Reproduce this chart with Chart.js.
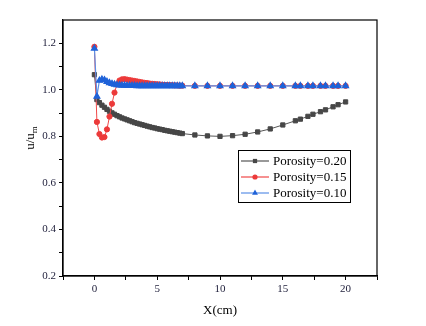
<!DOCTYPE html>
<html>
<head>
<meta charset="utf-8">
<script src="https://cdn.jsdelivr.net/npm/chart.js@4/dist/chart.umd.min.js"></script>
<style>
  body { margin: 0; background: #fff; }
  canvas { display: block; }
</style>
</head>
<body>
<canvas id="chart" width="426" height="326"></canvas>
<script>
const xs = [0, 0.2, 0.4, 0.6, 0.8, 1.0, 1.2, 1.4, 1.6, 1.8, 2.0, 2.2, 2.4, 2.6, 2.8, 3.0, 3.2, 3.4, 3.6, 3.8,
  4.0, 4.2, 4.4, 4.6, 4.8, 5.0, 5.2, 5.4, 5.6, 5.8, 6.0, 6.2, 6.4, 6.6, 6.8, 7.0,
  8, 9, 10, 11, 12, 13, 14, 15, 16, 16.4, 17, 17.4, 18, 18.4, 19, 19.4, 20];

const por20 = [1.065, 0.958, 0.945, 0.934, 0.925, 0.916, 0.908, 0.901, 0.895, 0.889, 0.884, 0.879, 0.875, 0.871, 0.867, 0.863, 0.859, 0.856, 0.853, 0.850,
  0.847, 0.844, 0.841, 0.838, 0.836, 0.833, 0.831, 0.829, 0.826, 0.824, 0.822, 0.820, 0.818, 0.816, 0.814, 0.812,
  0.806, 0.802, 0.800, 0.803, 0.809, 0.819, 0.832, 0.849, 0.867, 0.874, 0.886, 0.895, 0.906, 0.914, 0.927, 0.936, 0.948];

const por15 = [1.185, 0.862, 0.810, 0.795, 0.797, 0.830, 0.885, 0.940, 0.988, 1.024, 1.040, 1.045, 1.046, 1.044, 1.042, 1.040, 1.038, 1.036, 1.034, 1.032,
  1.030, 1.029, 1.027, 1.026, 1.025, 1.024, 1.023, 1.022, 1.021, 1.021, 1.020, 1.020, 1.019, 1.019, 1.018, 1.018,
  1.017, 1.017, 1.017, 1.017, 1.017, 1.017, 1.017, 1.017, 1.017, 1.017, 1.017, 1.017, 1.017, 1.017, 1.017, 1.017, 1.017];

const por10 = [1.178, 0.972, 1.040, 1.045, 1.042, 1.035, 1.030, 1.026, 1.023, 1.021, 1.020, 1.019, 1.019, 1.018, 1.018, 1.018, 1.018, 1.017, 1.017, 1.017,
  1.017, 1.017, 1.017, 1.017, 1.017, 1.017, 1.017, 1.017, 1.017, 1.017, 1.017, 1.017, 1.017, 1.017, 1.017, 1.017,
  1.017, 1.017, 1.017, 1.017, 1.017, 1.017, 1.017, 1.017, 1.017, 1.017, 1.017, 1.017, 1.017, 1.017, 1.017, 1.017, 1.017];

const seriesNames = ['Porosity=0.20', 'Porosity=0.15', 'Porosity=0.10'];
const xLabels = [0, 5, 10, 15, 20];
const yLabels = [0.2, 0.4, 0.6, 0.8, 1.0, 1.2];

const serif = 'Liberation Serif';
const tickColor = '#1e1e3a';

function pts(ys) {
  return xs.map((x, i) => ({ x: x, y: ys[i] }));
}

// frame, y title with subscript and a legend inside the plot
const extras = {
  id: 'extras',
  afterDraw(chart) {
    const ctx = chart.ctx;
    const a = chart.chartArea;
    ctx.save();
    ctx.strokeStyle = '#000';
    ctx.lineWidth = 1.2;
    ctx.strokeRect(a.left, a.top, a.right - a.left, a.bottom - a.top);

    // y title
    ctx.translate(31, 138);
    ctx.rotate(-Math.PI / 2);
    ctx.fillStyle = '#000';
    ctx.textBaseline = 'middle';
    ctx.font = '13px "' + serif + '"';
    const main = 'u/u';
    const w1 = ctx.measureText(main).width;
    ctx.font = '9px "' + serif + '"';
    const w2 = ctx.measureText('m').width;
    let x0 = -(w1 + w2) / 2;
    ctx.font = '13px "' + serif + '"';
    ctx.textAlign = 'left';
    ctx.fillText(main, x0, 0);
    ctx.font = '9px "' + serif + '"';
    ctx.fillText('m', x0 + w1, 4);
    ctx.restore();

    // legend
    ctx.save();
    const lx = 238, ly = 150, lw = 112, lh = 52;
    ctx.fillStyle = '#fff';
    ctx.fillRect(lx, ly, lw, lh);
    ctx.strokeStyle = '#000';
    ctx.lineWidth = 1;
    ctx.strokeRect(lx + 0.5, ly + 0.5, lw, lh);
    ctx.font = '13px "' + serif + '"';
    ctx.textBaseline = 'middle';
    ctx.textAlign = 'left';
    chart.data.datasets.forEach((ds, i) => {
      const y = ly + 11 + i * 16;
      ctx.strokeStyle = ds.borderColor;
      ctx.lineWidth = 1.2;
      ctx.beginPath();
      ctx.moveTo(lx + 3, y);
      ctx.lineTo(lx + 31, y);
      ctx.stroke();
      ctx.fillStyle = ds.pointBackgroundColor;
      Chart.helpers.drawPoint(ctx, {
        pointStyle: ds.pointStyle,
        radius: ds.pointRadius,
        borderWidth: 0
      }, lx + 17, y);
      ctx.fillStyle = '#000';
      ctx.fillText(ds.label, lx + 35, y + 1);
    });
    ctx.restore();
  }
};

new Chart(document.getElementById('chart'), {
  type: 'line',
  data: {
    datasets: [
      {
        label: seriesNames[0],
        data: pts(por20),
        borderColor: '#555555',
        backgroundColor: '#474747',
        pointBackgroundColor: '#474747',
        pointBorderColor: '#474747',
        pointStyle: 'rect',
        pointRadius: 3,
        borderWidth: 1,
        order: 2
      },
      {
        label: seriesNames[1],
        data: pts(por15),
        borderColor: '#f04848',
        backgroundColor: '#ec3a3a',
        pointBackgroundColor: '#ec3a3a',
        pointBorderColor: '#ec3a3a',
        pointStyle: 'circle',
        pointRadius: 2.6,
        borderWidth: 1,
        order: 1
      },
      {
        label: seriesNames[2],
        data: pts(por10),
        borderColor: '#5b8fe6',
        backgroundColor: '#1f62d8',
        pointBackgroundColor: '#1f62d8',
        pointBorderColor: '#1f62d8',
        pointStyle: 'triangle',
        pointRadius: 3.4,
        borderWidth: 1.2,
        order: 0
      }
    ]
  },
  options: {
    responsive: false,
    animation: false,
    layout: { padding: { top: 20, right: 49, left: 0, bottom: 0 } },
    plugins: {
      legend: { display: false },
      tooltip: { enabled: false }
    },
    scales: {
      x: {
        type: 'linear',
        min: -2.5,
        max: 22.5,
        afterFit(scale) { scale.height = 50; },
        afterBuildTicks(scale) {
          const t = [];
          for (let v = -2.5; v <= 22.5 + 1e-9; v += 2.5) t.push({ value: v });
          scale.ticks = t;
        },
        grid: { drawOnChartArea: false, tickLength: 4, tickColor: '#000', tickWidth: 1 },
        border: { color: '#000', width: 1.2 },
        ticks: {
          autoSkip: false,
          maxRotation: 0,
          padding: 3,
          color: tickColor,
          font: { family: serif, size: 11 },
          callback: (v) => xLabels.includes(v) ? String(v) : ''
        },
        title: {
          display: true,
          text: 'X(cm)',
          color: '#000',
          font: { family: serif, size: 13 },
          padding: { top: 0, bottom: 8 }
        }
      },
      y: {
        type: 'linear',
        min: 0.2,
        max: 1.3,
        afterFit(scale) { scale.width = 63; },
        afterBuildTicks(scale) {
          const t = [];
          for (let k = 2; k <= 12; k++) t.push({ value: k / 10 });
          scale.ticks = t;
        },
        grid: { drawOnChartArea: false, tickLength: 4, tickColor: '#000', tickWidth: 1 },
        border: { color: '#000', width: 1.2 },
        ticks: {
          autoSkip: false,
          padding: 3,
          color: tickColor,
          font: { family: serif, size: 11 },
          callback: (v) => yLabels.some((l) => Math.abs(l - v) < 1e-6) ? v.toFixed(1) : ''
        }
      }
    }
  },
  plugins: [extras]
});
</script>
</body>
</html>
